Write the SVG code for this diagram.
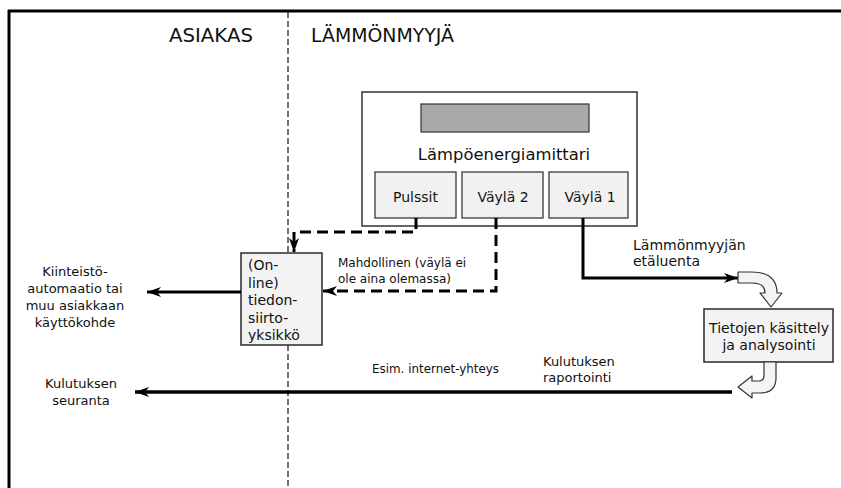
<svg xmlns="http://www.w3.org/2000/svg" width="841" height="488" viewBox="0 0 841 488">
<style>
  text { font-family: "DejaVu Sans", Verdana, sans-serif; fill: #111; }
  .head { font-size: 19.5px; }
  .t13 { font-size: 13px; }
  .t12 { font-size: 12px; }
  .t14 { font-size: 14px; }
  .mid { text-anchor: middle; }
  .sub { fill: #f1f1f1; stroke: #3a3a3a; stroke-width: 1.3; }
  .box { fill: #f3f3f3; stroke: #2a2a2a; stroke-width: 1.5; }
  .solid { fill: none; stroke: #000; stroke-width: 3; }
  .dash { fill: none; stroke: #000; stroke-width: 3; stroke-dasharray: 11 6; }
  .hollow { fill: #f4f4f4; stroke: #333; stroke-width: 1.2; stroke-linejoin: round; }
</style>
<defs>
  <marker id="ah" viewBox="0 0 14 10" refX="14" refY="5" markerWidth="14" markerHeight="10" markerUnits="userSpaceOnUse" orient="auto">
    <path d="M0,0 L14,5 L0,10 L4,5 Z" fill="#000"/>
  </marker>
</defs>
<rect width="841" height="488" fill="#fff"/>

<g id="frame">
  <line x1="8" y1="11" x2="841" y2="11" stroke="#000" stroke-width="3"/>
  <line x1="9" y1="10" x2="9" y2="488" stroke="#000" stroke-width="3"/>
  <line x1="288" y1="12" x2="288" y2="488" stroke="#111" stroke-width="1.2" stroke-dasharray="6 3"/>
  <text class="head" x="169" y="42" textLength="84" lengthAdjust="spacingAndGlyphs">ASIAKAS</text>
  <text class="head" x="311" y="42" textLength="143" lengthAdjust="spacingAndGlyphs">LÄMMÖNMYYJÄ</text>
</g>

<g id="meter">
  <rect x="362" y="92" width="275" height="134" fill="#fff" stroke="#333" stroke-width="1.5"/>
  <rect x="421" y="104" width="168" height="28" fill="#a9a9a9" stroke="#333" stroke-width="1.2"/>
  <text x="504" y="160" class="mid" style="font-size:16.4px">Lämpöenergiamittari</text>
</g>
<g id="pulssit">
  <rect class="sub" x="375" y="172" width="81" height="46"/>
  <text class="t14 mid" x="415.5" y="202">Pulssit</text>
</g>
<g id="vayla2">
  <rect class="sub" x="462" y="172" width="81" height="46"/>
  <text class="t14 mid" x="503" y="202">Väylä 2</text>
</g>
<g id="vayla1">
  <rect class="sub" x="549" y="172" width="79" height="46"/>
  <text class="t14 mid" x="590" y="202">Väylä 1</text>
</g>

<g id="online">
  <rect class="box" x="241" y="253" width="81" height="92"/>
  <text class="t14" x="248" y="270">(On-</text>
  <text class="t14" x="248" y="288">line)</text>
  <text class="t14" x="248" y="305">tiedon-</text>
  <text class="t14" x="248" y="323">siirto-</text>
  <text class="t14" x="248" y="340">yksikkö</text>
</g>

<g id="processing">
  <rect class="box" x="704" y="309" width="129" height="53"/>
  <text class="t14 mid" x="769" y="333">Tietojen käsittely</text>
  <text class="t14 mid" x="769" y="350">ja analysointi</text>
</g>

<g id="building-automation">
  <text class="t13 mid" x="75" y="276">Kiinteistö-</text>
  <text class="t13 mid" x="75" y="293">automaatio tai</text>
  <text class="t13 mid" x="75" y="310">muu asiakkaan</text>
  <text class="t13 mid" x="75" y="327">käyttökohde</text>
</g>

<g id="monitoring">
  <text class="t13 mid" x="81" y="388">Kulutuksen</text>
  <text class="t13 mid" x="81" y="405">seuranta</text>
</g>

<g id="connectors">
  <path class="dash" d="M416,218 V232 H294 V252" marker-end="url(#ah)"/>
  <path class="dash" d="M496,218 V291 H323" marker-end="url(#ah)"/>
  <path class="solid" d="M583,218 V278 H738" marker-end="url(#ah)"/>
  <path class="solid" d="M241,292 H147" marker-end="url(#ah)"/>
  <path class="solid" style="stroke-width:3.5" d="M732,392 H135" marker-end="url(#ah)"/>
  <path class="hollow" d="M738,272 L752,272 Q777,272 777,293 L782,293 L771,307 L760,293 L765,293 Q765,283 752,283 L738,283 Z"/>
  <path class="hollow" d="M764,362 L776,362 L776,378 Q776,393 760,393 L752,393 L752,398 L738,387 L752,376 L752,381 L759,381 Q764,381 764,375 Z"/>
  <text class="t12" x="338" y="267">Mahdollinen (väylä ei</text>
  <text class="t12" x="338" y="283">ole aina olemassa)</text>
  <text class="t14" x="633" y="250">Lämmönmyyjän</text>
  <text class="t14" x="633" y="266">etäluenta</text>
  <text class="t12" x="372" y="373" textLength="127" lengthAdjust="spacingAndGlyphs">Esim. internet-yhteys</text>
  <text class="t13" x="543" y="366">Kulutuksen</text>
  <text class="t13" x="543" y="382">raportointi</text>
</g>
</svg>
